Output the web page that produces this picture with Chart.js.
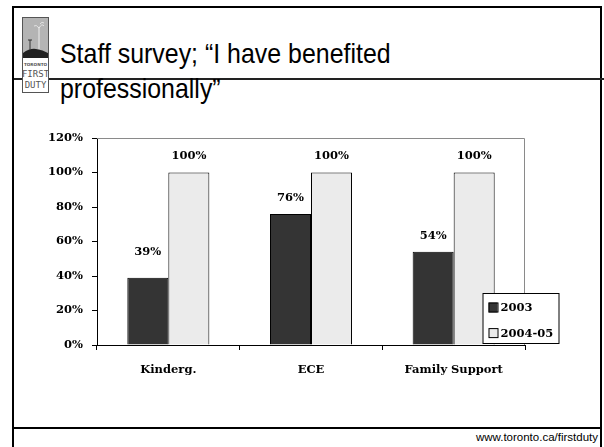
<!DOCTYPE html>
<html>
<head>
<meta charset="utf-8">
<script src="https://cdn.jsdelivr.net/npm/chart.js@4.4.0/dist/chart.umd.min.js"></script>
<style>
  html, body { margin: 0; padding: 0; background: #fff; }
  #slide { position: relative; width: 604px; height: 447px; overflow: hidden; font-family: "Liberation Sans", Arial, sans-serif; }
  #chartWrap { position: absolute; left: 0; top: 0; width: 604px; height: 447px; }
  .rule { position: absolute; background: #000; }
  #logo { position: absolute; left: 22px; top: 17px; width: 27px; height: 76px; background: #fff; }
  #title { position: absolute; left: 60px; top: 36px; font-size: 28px; line-height: 35px; white-space: nowrap; color: #000; transform: scaleX(0.89); transform-origin: 0 0; }
  #footer { position: absolute; right: 6px; top: 430px; font-size: 11.5px; line-height: 14px; color: #000; }
</style>
</head>
<body>
<div id="slide">
  <div class="rule" style="left:12px;top:6px;width:590px;height:2px"></div>
  <div class="rule" style="left:12px;top:6px;width:2px;height:441px"></div>
  <div class="rule" style="left:600px;top:6px;width:2px;height:441px"></div>
  <div class="rule" style="left:14px;top:78px;width:590px;height:2px;background:#222"></div>
  <div class="rule" style="left:14px;top:427px;width:586px;height:2px"></div>

  <svg id="logo" viewBox="0 0 27 76" xmlns="http://www.w3.org/2000/svg">
    <rect x="0.5" y="0.5" width="26" height="75" fill="#fff" stroke="#555"/>
    <rect x="1" y="1" width="25" height="37" fill="#b4b4b4"/>
    <path d="M1 36 Q8 31 14 32 Q21 33 26 36 L26 41 L1 41 Z" fill="#222"/>
    <path d="M17 32 L17 10" stroke="#eee" stroke-width="1"/>
    <path d="M17 11 q-3 -4 -5 -2 M17 11 q3 -5 5 -2 M18 7 q2 -3 4 -1" stroke="#eee" stroke-width="0.8" fill="none"/>
    <path d="M8 33 L8 23 M6 23 L10 23" stroke="#333" stroke-width="1"/>
    <text x="13.5" y="49" font-size="4.2" font-family="DejaVu Sans" font-weight="bold" text-anchor="middle" fill="#555">TORONTO</text>
    <text x="13.5" y="60" font-size="9" font-family="DejaVu Sans Mono" text-anchor="middle" fill="#555">FIRST</text>
    <text x="13.5" y="71" font-size="9" font-family="DejaVu Sans Mono" text-anchor="middle" fill="#555">DUTY</text>
  </svg>

  <div id="title">Staff survey; “I have benefited<br>professionally”</div>
  <div id="footer">www.toronto.ca/firstduty</div>

  <div id="chartWrap"><canvas id="chart" width="604" height="447"></canvas></div>
</div>

<script>
// categories and series
const categories = ['Kinderg.', 'ECE', 'Family Support'];
const seriesNames = ['2003', '2004-05'];
const values2003 = [39, 76, 54];
const values2004 = [100, 100, 100];
const yTicks = [0, 20, 40, 60, 80, 100, 120];

const labelFont = '"DejaVu Serif", serif';

// grey frame on the top and right of the plot area
const plotFrame = {
  id: 'plotFrame',
  beforeDatasetsDraw(chart) {
    const { ctx, chartArea: a } = chart;
    ctx.save();
    ctx.strokeStyle = '#8a8a8a';
    ctx.lineWidth = 1;
    ctx.beginPath();
    ctx.moveTo(a.left, a.top + 0.5);
    ctx.lineTo(a.right - 0.5, a.top + 0.5);
    ctx.lineTo(a.right - 0.5, a.bottom);
    ctx.stroke();
    ctx.restore();
  }
};

// value printed above each bar
const valueLabels = {
  id: 'valueLabels',
  afterDatasetsDraw(chart, args, opts) {
    const { ctx } = chart;
    ctx.save();
    ctx.font = 'bold 11.5px ' + labelFont;
    ctx.fillStyle = '#000';
    ctx.textAlign = 'center';
    ctx.textBaseline = 'middle';
    chart.data.datasets.forEach((ds, i) => {
      chart.getDatasetMeta(i).data.forEach((bar, j) => {
        const lift = (opts.lift[i] && opts.lift[i][j]) || 16;
        ctx.fillText(ds.data[j] + '%', bar.x, bar.y - lift);
      });
    });
    ctx.restore();
  }
};

// boxed legend sitting over the lower right corner
const boxLegend = {
  id: 'boxLegend',
  afterDraw(chart, args, opts) {
    const { ctx } = chart;
    ctx.save();
    ctx.fillStyle = '#fff';
    ctx.fillRect(opts.x, opts.y, opts.w, opts.h);
    ctx.strokeStyle = '#000';
    ctx.lineWidth = 1;
    ctx.strokeRect(opts.x + 0.5, opts.y + 0.5, opts.w, opts.h);
    ctx.font = 'bold 11.5px ' + labelFont;
    ctx.textBaseline = 'middle';
    chart.data.datasets.forEach((ds, i) => {
      const cy = opts.y + opts.first + i * opts.step;
      ctx.fillStyle = ds.backgroundColor;
      ctx.fillRect(opts.x + 6, cy - 5, 9, 10);
      ctx.strokeRect(opts.x + 6.5, cy - 4.5, 9, 9);
      ctx.fillStyle = '#000';
      ctx.fillText(ds.label, opts.x + 18, cy + 0.5);
    });
    ctx.restore();
  }
};

new Chart(document.getElementById('chart').getContext('2d'), {
  type: 'bar',
  data: {
    labels: categories,
    datasets: [
      {
        label: seriesNames[0],
        data: values2003,
        backgroundColor: '#343434',
        borderColor: '#000',
        borderWidth: 1,
      },
      {
        label: seriesNames[1],
        data: values2004,
        backgroundColor: '#ebebeb',
        borderColor: '#000',
        borderWidth: 1,
      },
    ],
  },
  options: {
    responsive: false,
    animation: false,
    devicePixelRatio: 1,
    categoryPercentage: 0.575,
    barPercentage: 1,
    layout: { padding: { left: 14, right: 79, top: 138, bottom: 42 } },
    plugins: {
      legend: { display: false },
      tooltip: { enabled: false },
      valueLabels: { lift: [[26, 16, 16], [16, 16, 16]] },
      boxLegend: { x: 482.5, y: 293, w: 76, h: 50, first: 14.5, step: 25.6 },
    },
    scales: {
      x: {
        grid: { display: true, offset: true, drawOnChartArea: false, tickLength: 5, color: '#000' },
        border: { display: true, color: '#000', width: 1 },
        ticks: { color: '#000', padding: 13, font: { family: labelFont, size: 11.5, weight: 'bold' } },
        afterFit: (scale) => { scale.height = 60; },
      },
      y: {
        min: 0,
        max: 120,
        afterBuildTicks: (scale) => { scale.ticks = yTicks.map((v) => ({ value: v })); },
        grid: { display: true, drawOnChartArea: false, tickLength: 5, color: '#000' },
        border: { display: true, color: '#000', width: 1 },
        ticks: {
          color: '#000',
          padding: 9,
          font: { family: labelFont, size: 11.5, weight: 'bold' },
          callback: (v) => v + '%',
        },
        afterFit: (scale) => { scale.width = 83; },
      },
    },
  },
  plugins: [plotFrame, valueLabels, boxLegend],
});
</script>
</body>
</html>
